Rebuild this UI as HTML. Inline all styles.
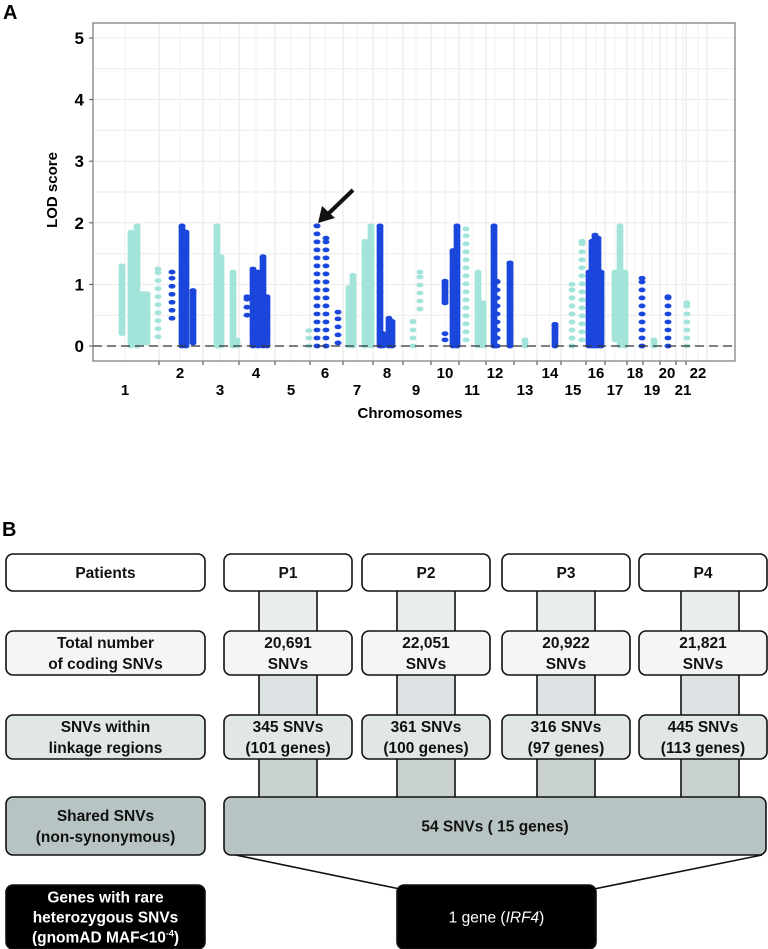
<!DOCTYPE html>
<html><head><meta charset="utf-8"><style>
body{margin:0;width:768px;height:949px;background:#fff;font-family:"Liberation Sans",Arial,sans-serif;overflow:hidden}
svg{display:block}
</style></head><body>
<svg id="chart" width="768" height="949">
<text x="3" y="19" font-size="20" font-weight="bold">A</text>
<g id="plot"></g>
<text x="410" y="418" font-size="15" font-weight="bold" text-anchor="middle">Chromosomes</text>
<text transform="translate(57,190) rotate(-90)" font-size="15" font-weight="bold" text-anchor="middle">LOD score</text>
<g>
<line x1="353" y1="190" x2="327" y2="215" stroke="#111" stroke-width="4"/>
<polygon points="318,223 322,206 335,218" fill="#111"/>
</g>

<text x="2" y="536" font-size="20" font-weight="bold">B</text>
<g id="flow" font-weight="bold" font-size="15.5" text-anchor="middle"></g>
</svg>
<script>
// ---- chart data (genome position units along the concatenated axis) ----
const chromNames=["1","2","3","4","5","6","7","8","9","10","11","12","13","14","15","16","17","18","19","20","21","22"];
const chromEnds=[66,110,146,182,217,250,280,310,338,366,393,421,444,468,493,512,534,550,567,583,593,614];
const chromMids=[32,87,127,163,198,232,264,294,323,352,379,402,432,457,480,503,522,542,559,574,590,605];
const yTicks=[0,1,2,3,4,5];
const colChr=[1,1,1,1,1,1, 2,2,2,2, 3,3,3,3, 4,4,4,4,4, 5, 6,6,6, 7,7,7,7, 8,8,8,8, 9,9, 10,10,10,10, 11,11,11, 12,12,12, 13, 14, 15,15, 16,16,16,16,16, 17,17,17, 18, 19, 20, 21];
const colPos=[29,38,44,50,54,65, 79,89,93,100, 124,128,140,144, 154,160,165,170,174, 216, 224,233,245, 256,260,272,278, 287,290,296,299, 320,327, 352,352,360,364, 373,385,390, 401,404,417, 432, 462, 479,489, 496,499,502,505,508, 522,527,532, 549, 561, 575, 594];
const colLo=[0.2,0,0,0.05,0.05,0.15, 0.45,0,0,0.05, 0,0,0,0, 0.5,0,0,0,0, 0, 0,0,0.05, 0,0,0,0, 0,0,0,0, 0,0.6, 0.7,0.1,0,0, 0.1,0,0, 0,0,0, 0, 0, 0,0.1, 0,0,0,0,0, 0.1,0,0, 0, 0, 0, 0];
const colHi=[1.3,1.85,1.95,0.85,0.85,1.25, 1.2,1.95,1.85,0.9, 1.95,1.45,1.2,0.1, 0.8,1.25,1.2,1.45,0.8, 0.25, 1.95,1.75,0.55, 0.95,1.15,1.7,1.95, 1.95,0.2,0.45,0.4, 0.4,1.2, 1.05,0.2,1.55,1.95, 1.9,1.2,0.7, 1.95,1.05,1.35, 0.1, 0.35, 1.0,1.7, 1.2,1.7,1.8,1.75,1.2, 1.2,1.95,1.2, 1.1, 0.1, 0.8, 0.7];
const colSparse=[0,0,0,0,0,1, 1,0,0,0, 0,0,0,0, 1,0,0,0,0, 1, 1,1,1, 0,0,0,0, 0,0,0,0, 1,1, 0,1,0,0, 1,0,0, 0,1,0, 0, 0, 1,1, 0,0,0,0,0, 0,0,0, 1, 0, 1, 1];

const NS="http://www.w3.org/2000/svg";
function mk(tag,attrs,parent){const e=document.createElementNS(NS,tag);for(const k in attrs)e.setAttribute(k,attrs[k]);parent.appendChild(e);return e;}
const X0=93,KX=1,Y0=346,KY=61.6;
const xs=g=>X0+g*KX, ys=v=>Y0-v*KY;
const plot=document.getElementById('plot');
const PL=93,PR=735,PT=23,PB=361;
let bg=mk('rect',{x:PL,y:PT,width:PR-PL,height:PB-PT,fill:'#fff'},plot);


for(let v=0;v<=5.25;v+=0.5){if(ys(v)<PT)break;let l=mk('line',{x1:PL,x2:PR,y1:ys(v),y2:ys(v),stroke:'#ebebeb','stroke-width':1},plot);

}
chromEnds.forEach((e,i)=>{
 let l=mk('line',{x1:xs(e),x2:xs(e),y1:PT,y2:PB,stroke:'#e6e6e6','stroke-width':1},plot);
 
 
 let m=mk('line',{x1:xs(chromMids[i]),x2:xs(chromMids[i]),y1:PT,y2:PB,stroke:'#f0f0f0','stroke-width':1},plot);
 
 
 if(i<chromEnds.length-1){let t=mk('line',{x1:xs(e),x2:xs(e),y1:PB,y2:PB+4,stroke:'#555','stroke-width':1.2},plot);
 
 }
});
// points
colPos.forEach((g,i)=>{
 const col=(colChr[i]%2===1)?'#a2e3da':'#1a46dc';
 const step=colSparse[i]?0.13:0.035;
 const grp=mk('g',{fill:col},plot);
 
 
 for(let v=colLo[i];v<=colHi[i]+1e-6;v+=step){
  mk('ellipse',{cx:xs(g),cy:ys(v),rx:3.5,ry:2.4},grp);
 }
 mk('ellipse',{cx:xs(g),cy:ys(colHi[i]),rx:3.5,ry:2.4},grp);
});
let zl=mk('line',{x1:PL,x2:PR,y1:ys(0),y2:ys(0),stroke:'#333','stroke-width':1.3,'stroke-dasharray':'9,5'},plot);


let fr=mk('rect',{x:PL,y:PT,width:PR-PL,height:PB-PT,fill:'none',stroke:'#777','stroke-width':1.2},plot);


yTicks.forEach(v=>{
 let t=mk('text',{x:84,y:ys(v)+6,'font-size':17,'font-weight':'bold','text-anchor':'end'},plot);t.textContent=v;
 
 
 let k=mk('line',{x1:PL-4,x2:PL,y1:ys(v),y2:ys(v),stroke:'#555'},plot);
 
 
});
chromNames.forEach((n,i)=>{
 let t=mk('text',{x:xs(chromMids[i]),y:(i%2===0)?395:378,'font-size':15,'font-weight':'bold','text-anchor':'middle'},plot);t.textContent=n;
 
 
});

// ---- flowchart ----
const flow=document.getElementById('flow');
function box(x,y,w,h,fill,lines,name,color){
 const g=mk('g',{},flow);
 
 
 mk('rect',{x:x,y:y,width:w,height:h,rx:7,fill:fill,stroke:'#111','stroke-width':1.6},g);
 const lh=lines.length>2?20:21;
 const start=y+h/2-(lines.length-1)*lh/2+5.5;
 lines.forEach((s,i)=>{const t=mk('text',{x:x+w/2,y:start+i*lh,fill:color||'#111'},g);t.innerHTML=s;});
 return g;
}
function conn(x,y1,y2,fill){
 const g=mk('g',{},flow);
 
 
 mk('rect',{x:x,y:y1,width:58,height:y2-y1,fill:fill},g);
 mk('line',{x1:x,x2:x,y1:y1,y2:y2,stroke:'#111','stroke-width':1.6},g);
 mk('line',{x1:x+58,x2:x+58,y1:y1,y2:y2,stroke:'#111','stroke-width':1.6},g);
}
const px=[224,362,502,639], cxs=[259,397,537,681];
cxs.forEach(c=>{conn(c,591,631,'#e9eded');conn(c,675,715,'#dde3e4');conn(c,759,797,'#c9d1d1');});
let l1=mk('line',{x1:226,y1:853,x2:400,y2:889,stroke:'#111','stroke-width':1.6},flow);


let l2=mk('line',{x1:762,y1:855,x2:594,y2:889,stroke:'#111','stroke-width':1.6},flow);


box(6,554,199,37,'#fff',['Patients'],'patients-header');
box(6,631,199,44,'#f4f6f6',['Total number','of coding SNVs'],'total-snvs-header');
box(6,715,199,44,'#e1e6e7',['SNVs within','linkage regions'],'linkage-snvs-header');
box(6,797,199,58,'#b8c4c3',['Shared SNVs','(non-synonymous)'],'shared-snvs-header');
box(6,885,199,64,'#000',['Genes with rare','heterozygous SNVs','(gnomAD MAF&lt;10<tspan font-size="9" dy="-6">-4</tspan><tspan dy="6">)</tspan>'],'rare-genes-header','#fff');
const pats=['P1','P2','P3','P4'],tot=['20,691','22,051','20,922','21,821'],lk=['345 SNVs','361 SNVs','316 SNVs','445 SNVs'],gn=['(101 genes)','(100 genes)','(97 genes)','(113 genes)'];
px.forEach((x,i)=>{
 box(x,554,128,37,'#fff',[pats[i]],'patient-'+pats[i].toLowerCase());
 box(x,631,128,44,'#f4f6f6',[tot[i],'SNVs'],'total-'+pats[i].toLowerCase());
 box(x,715,128,44,'#e1e6e7',[lk[i],gn[i]],'linkage-'+pats[i].toLowerCase());
});
box(224,797,542,58,'#b8c4c3',['54 SNVs ( 15 genes)'],'shared-snvs-box');
box(397,885,199,64,'#000',['<tspan font-weight="normal">1 gene (<tspan font-style="italic">IRF4</tspan>)</tspan>'],'result-gene-box','#fff');
</script>
</body></html>
